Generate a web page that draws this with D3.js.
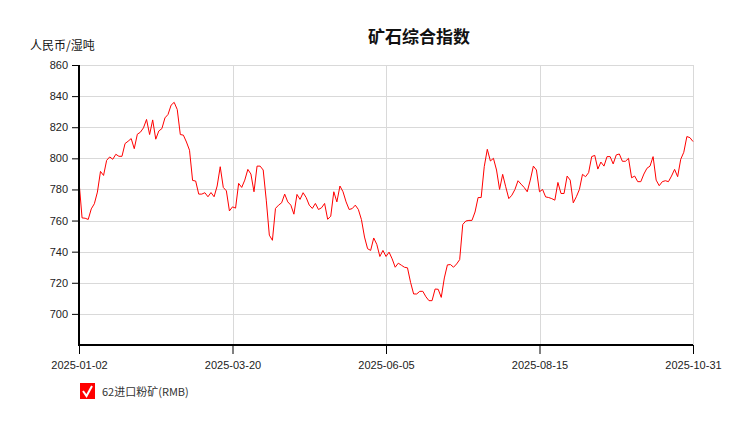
<!DOCTYPE html>
<html>
<head>
<meta charset="utf-8">
<script src="https://cdn.jsdelivr.net/npm/d3@7"></script>
<style>
  html, body { margin: 0; padding: 0; background: #fff; }
  svg { display: block; font-family: "Liberation Sans", Arial, "Noto Sans CJK SC", sans-serif; }
</style>
</head>
<body>
<svg id="chart" width="750" height="421"></svg>
<script>
// ---- data ----
const chartTitle = "矿石综合指数";
const yUnit = "人民币/湿吨";
const seriesName = "62进口粉矿(RMB)";
const xTickLabels = ["2025-01-02", "2025-03-20", "2025-06-05", "2025-08-15", "2025-10-31"];
const xTickIndex = [0, 50, 100, 150, 200];
const yTicks = [700, 720, 740, 760, 780, 800, 820, 840, 860];
const values = [
  785.2, 761.7, 761.5, 760.7, 767.5, 770.8, 778.3, 791.6, 789, 798.7,
  800.9, 799.4, 802.6, 801.3, 801.3, 809.5, 811, 812.7, 806.2, 815.5,
  816.8, 819.6, 825, 815.3, 824.7, 812.3, 817.6, 819.1, 826, 828.2,
  834.2, 836, 831.4, 815.3, 814.9, 810.5, 805.2, 785.8, 785.4, 777,
  777, 777.9, 775.3, 778, 775.3, 782.2, 794.6, 781.3, 779.1, 766.2,
  768.8, 768, 783.9, 781.3, 786, 792.9, 789.9, 778.5, 795, 795,
  792.5, 773.1, 750.6, 747.3, 767.8, 769.9, 771.4, 777, 772, 769.9,
  764.1, 776.8, 773.6, 777.9, 774.8, 769.9, 767.8, 771, 767.1, 768.2,
  771, 760.8, 762.8, 778.5, 772, 782.2, 778.5, 772, 767.1, 767.7,
  769.9, 767.1, 760.6, 749.4, 741.9, 740.8, 748.8, 744.7, 736.9, 740.8,
  736.9, 739.7, 735.4, 730, 732.6, 731.3, 730, 729.6, 720.3, 712.8,
  712.8, 714.5, 714.5, 711, 708.5, 708.5, 716, 715.8, 710.6, 723.1,
  731.5,
  731.7, 730, 732.1, 734.9, 757.5, 759.7, 760.1, 760.1, 765.5, 774.8,
  774.8, 794.6, 805.8, 798.3, 800, 792.5, 780, 789.7, 781.7, 774.1,
  776.3, 780, 785.6, 783.4, 781.3, 778.5, 786, 795, 792.5, 778.5,
  780, 775.2, 774.8, 774.1, 773.1, 784.5, 777.4, 777.4, 788.6, 786,
  771.4, 775.3, 780, 789.7, 788.2, 790.8, 801.1, 801.9, 793.1, 797.6,
  795, 801.1, 801.1, 796.4, 802.2, 802.8, 798.1, 798.1, 800, 787.5,
  788.6, 785, 785, 789.9, 793.6, 795, 801.1, 786, 782.4, 785,
  785.6, 785, 788.6, 792.9, 788.2, 799.4, 803.9, 814, 813.3, 810.8
];

// ---- layout ----
const mLeft = 79, mRight = 693, mTop = 65, mBottom = 345;
const svg = d3.select("#chart");

const x = d3.scaleLinear().domain([0, values.length - 1]).range([mLeft, mRight]);
const y = d3.scaleLinear().domain([680, 860]).range([mBottom, mTop]);

// grid
const grid = svg.append("g");
grid.selectAll("line.h").data(yTicks).join("line")
  .attr("x1", mLeft).attr("x2", mRight)
  .attr("y1", d => Math.round(y(d)) + 0.5).attr("y2", d => Math.round(y(d)) + 0.5)
  .attr("stroke", "#d9d9d9").attr("stroke-width", 1);
grid.selectAll("line.v").data(xTickIndex.slice(1)).join("line")
  .attr("x1", d => Math.round(x(d)) + 0.5).attr("x2", d => Math.round(x(d)) + 0.5)
  .attr("y1", mTop).attr("y2", mBottom)
  .attr("stroke", "#d9d9d9").attr("stroke-width", 1);

// line
svg.append("path")
  .datum(values)
  .attr("fill", "none")
  .attr("stroke", "#ff0000")
  .attr("stroke-width", 1)
  .attr("d", d3.line().x((d, i) => x(i)).y(d => y(d)));

// y axis
const yAxis = svg.append("g")
  .attr("transform", `translate(${mLeft},0)`)
  .call(d3.axisLeft(y).tickValues(yTicks).tickSize(7).tickPadding(4));
yAxis.select(".domain").attr("stroke", "#000").attr("stroke-width", 2)
  .attr("d", `M0,${mTop}V${mBottom + 1}`);
yAxis.selectAll(".tick line").attr("stroke", "#000");
yAxis.selectAll(".tick text").attr("font-size", 11).attr("fill", "#222");

// x axis
const xAxis = svg.append("g")
  .attr("transform", `translate(0,${mBottom})`)
  .call(d3.axisBottom(x).tickValues(xTickIndex)
    .tickFormat((d, i) => xTickLabels[i]).tickSize(9).tickPadding(7));
xAxis.select(".domain").attr("stroke", "#000").attr("stroke-width", 2)
  .attr("d", `M${mLeft - 1},0H${mRight}`);
xAxis.selectAll(".tick line").attr("stroke", "#000");
xAxis.selectAll(".tick text").attr("font-size", 11).attr("fill", "#222");

// title & unit
svg.append("text").attr("x", 419).attr("y", 43).attr("text-anchor", "middle")
  .attr("font-size", 17).attr("font-weight", "bold").attr("fill", "#111")
  .style("font-family", "'Noto Sans CJK SC', sans-serif")
  .text(chartTitle);
svg.append("text").attr("x", 30).attr("y", 50)
  .attr("font-size", 12).attr("fill", "#111")
  .style("font-family", "'Noto Sans CJK SC', sans-serif")
  .text(yUnit);

// legend
const lg = svg.append("g").attr("transform", "translate(80,383)");
lg.append("rect").attr("width", 15).attr("height", 16).attr("fill", "#ff0000");
lg.append("path").attr("d", "M3,8 L6.5,13 L12,3")
  .attr("fill", "none").attr("stroke", "#fff").attr("stroke-width", 2);
lg.append("text").attr("x", 22).attr("y", 13).attr("font-size", 11).attr("fill", "#333")
  .style("font-family", "'Noto Sans CJK SC', sans-serif")
  .text(seriesName);
</script>
</body>
</html>
